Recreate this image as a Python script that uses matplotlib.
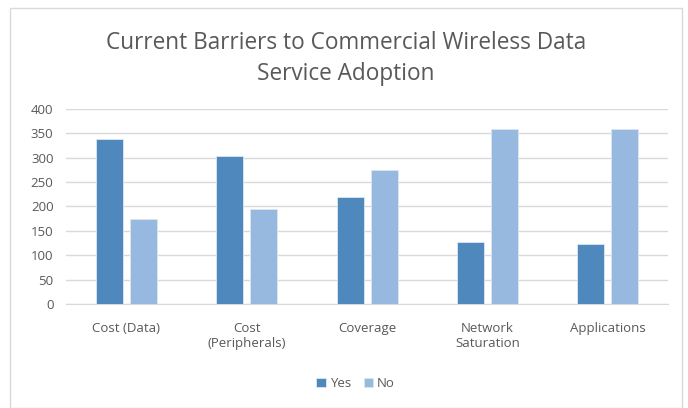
import matplotlib.pyplot as plt
import numpy as np
from matplotlib.patches import Rectangle

categories = ["Cost (Data)", "Cost\n(Peripherals)", "Coverage", "Network\nSaturation", "Applications"]
yes_values = [338, 303, 219, 127, 122]
no_values = [174, 194, 274, 358, 358]

plt.rcParams["font.family"] = ["Open Sans", "DejaVu Sans"]

fig = plt.figure(figsize=(6.88, 4.08), dpi=100)
ax = fig.add_axes([0.096, 0.255, 0.875, 0.478])

x = np.arange(len(categories))
width = 0.224
offset = 0.141
ax.bar(x - offset, yes_values, width, color="#4F88BD", edgecolor="#DCE6F2", linewidth=0.6, label="Yes", zorder=3)
ax.bar(x + offset, no_values, width, color="#97B8DF", edgecolor="#DCE6F2", linewidth=0.6, label="No", zorder=3)

ax.set_xlim(-0.5, len(categories) - 0.5)
ax.set_ylim(0, 400)
ax.set_yticks(range(0, 401, 50))
ax.set_xticks(x)
ax.set_xticklabels(categories)
ax.yaxis.grid(True, color="#D9D9D9", linewidth=1, zorder=0)
for side in ["top", "right", "left"]:
    ax.spines[side].set_visible(False)
ax.spines["bottom"].set_color("#D9D9D9")
ax.tick_params(axis="both", length=0, labelsize=9.5, colors="#595959")
ax.tick_params(axis="x", pad=13)
ax.tick_params(axis="y", pad=9)

fig.text(0.503, 0.857, "Current Barriers to Commercial Wireless Data\nService Adoption",
         ha="center", va="center", fontsize=16.3, color="#595959", linespacing=1.4)

fig.legend(loc="center", bbox_to_anchor=(0.517, 0.06), ncol=2, frameon=False,
           fontsize=9.5, handlelength=0.7, handleheight=0.7, handletextpad=0.3,
           columnspacing=1.0, labelcolor="#595959")

fig.patches.append(Rectangle((10 / 688, 0.0), 672 / 688, 1 - 8 / 408, transform=fig.transFigure,
                             fill=False, edgecolor="#D9D9D9", linewidth=1))

fig.savefig("out.png", dpi=100)
